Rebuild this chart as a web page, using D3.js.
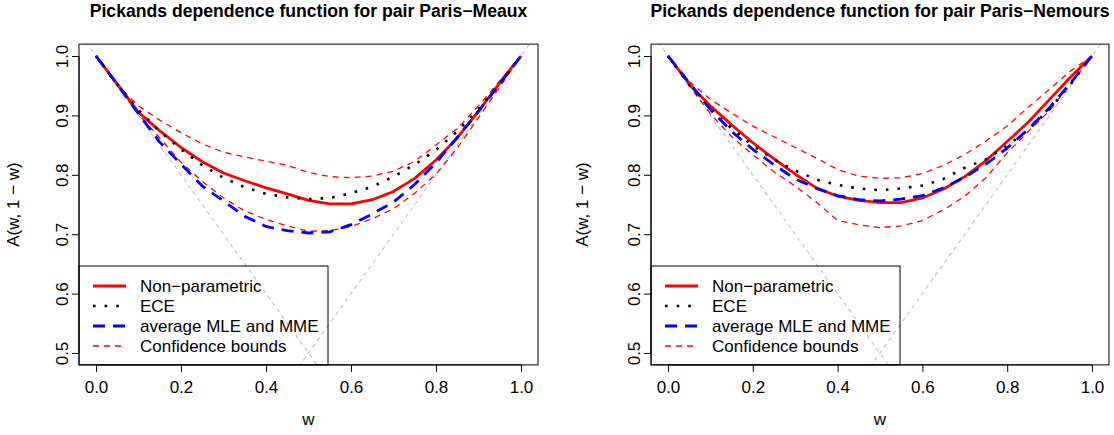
<!DOCTYPE html>
<html>
<head>
<meta charset="utf-8">
<script src="https://cdn.jsdelivr.net/npm/d3@7"></script>
<style>
  html, body { margin: 0; padding: 0; background: #fff; }
  svg { display: block; font-family: "Liberation Sans", Arial, Helvetica, sans-serif; }
</style>
</head>
<body>
<svg id="chart" width="1114" height="435"></svg>
<script>
// ---------- data ----------
const wGrid = [0, 0.05, 0.10, 0.15, 0.20, 0.25, 0.30, 0.35, 0.40, 0.45, 0.50,
               0.55, 0.60, 0.65, 0.70, 0.75, 0.80, 0.85, 0.90, 0.95, 1.0];
const xTicks = [0, 0.2, 0.4, 0.6, 0.8, 1.0];
const yTicks = [0.5, 0.6, 0.7, 0.8, 0.9, 1.0];
const panelTitles = ["Pickands dependence function for pair Paris\u2212Meaux",
                     "Pickands dependence function for pair Paris\u2212Nemours"];
const legendLabels = ["Non\u2212parametric", "ECE", "average MLE and MME", "Confidence bounds"];

// Paris-Meaux
const meauxNonParam = [1.000, 0.953, 0.905, 0.874, 0.846, 0.822, 0.803, 0.790, 0.778, 0.768, 0.757,
                       0.751, 0.751, 0.758, 0.772, 0.794, 0.825, 0.862, 0.907, 0.955, 1.000];
const meauxECE      = [1.000, 0.952, 0.909, 0.873, 0.843, 0.816, 0.795, 0.779, 0.768, 0.762, 0.759,
                       0.761, 0.769, 0.780, 0.797, 0.817, 0.842, 0.873, 0.911, 0.953, 1.000];
const meauxMLE      = [1.000, 0.952, 0.903, 0.855, 0.818, 0.781, 0.756, 0.730, 0.713, 0.706, 0.702,
                       0.704, 0.716, 0.734, 0.754, 0.784, 0.820, 0.863, 0.907, 0.953, 1.000];
const meauxUpper    = [1.000, 0.951, 0.916, 0.892, 0.871, 0.852, 0.838, 0.830, 0.823, 0.816, 0.804,
                       0.797, 0.795, 0.798, 0.806, 0.823, 0.850, 0.878, 0.916, 0.958, 1.000];
const meauxLower    = [1.000, 0.950, 0.902, 0.862, 0.821, 0.789, 0.761, 0.739, 0.725, 0.714, 0.705,
                       0.706, 0.713, 0.726, 0.743, 0.769, 0.801, 0.845, 0.896, 0.948, 1.000];

// Paris-Nemours
const nemoursNonParam = [1.000, 0.953, 0.916, 0.884, 0.854, 0.827, 0.801, 0.778, 0.764, 0.757, 0.753,
                         0.753, 0.761, 0.776, 0.797, 0.824, 0.856, 0.889, 0.927, 0.965, 1.000];
const nemoursECE      = [1.000, 0.951, 0.911, 0.878, 0.849, 0.826, 0.807, 0.792, 0.783, 0.777, 0.774,
                         0.777, 0.782, 0.793, 0.812, 0.826, 0.849, 0.876, 0.911, 0.953, 1.000];
const nemoursMLE      = [1.000, 0.955, 0.910, 0.873, 0.843, 0.817, 0.793, 0.777, 0.765, 0.758, 0.756,
                         0.759, 0.765, 0.778, 0.796, 0.818, 0.845, 0.877, 0.913, 0.955, 1.000];
const nemoursUpper    = [1.000, 0.957, 0.927, 0.904, 0.882, 0.864, 0.846, 0.828, 0.809, 0.798, 0.794,
                         0.795, 0.802, 0.816, 0.834, 0.857, 0.882, 0.914, 0.944, 0.975, 1.000];
const nemoursLower    = [1.000, 0.950, 0.903, 0.864, 0.834, 0.805, 0.781, 0.754, 0.723, 0.716, 0.711,
                         0.714, 0.723, 0.741, 0.764, 0.795, 0.837, 0.873, 0.908, 0.954, 1.000];

const panels = [
  { title: panelTitles[0], np: meauxNonParam, ece: meauxECE, mle: meauxMLE, up: meauxUpper, lo: meauxLower,
    x0: 96, x1: 521, labelX: 19 },
  { title: panelTitles[1], np: nemoursNonParam, ece: nemoursECE, mle: nemoursMLE, up: nemoursUpper, lo: nemoursLower,
    x0: 668, x1: 1092, labelX: 588 }
];

// ---------- styles ----------
const styles = {
  np:  { stroke: "#ff0000", width: 2.8, dash: null },
  ece: { stroke: "#000000", width: 2.6, dash: "2.6,9" },
  mle: { stroke: "#0000ff", width: 2.8, dash: "12,8" },
  ci:  { stroke: "#ff0000", width: 1.3, dash: "6,5" },
  ref: { stroke: "#bebebe", width: 1.1, dash: "4,4" }
};

const svg = d3.select("#chart");
const yTop = 56, yBot = 353;
const fs = 17;

panels.forEach((p, i) => {
  const x = d3.scaleLinear().domain([0, 1]).range([p.x0, p.x1]);
  const y = d3.scaleLinear().domain([0.5, 1]).range([yBot, yTop]);
  const bx0 = x(-0.04), bx1 = x(1.04), by0 = y(1.02), by1 = y(0.48);

  const g = svg.append("g");
  const clipId = "clip" + i;
  g.append("clipPath").attr("id", clipId)
    .append("rect").attr("x", bx0).attr("y", by0).attr("width", bx1 - bx0).attr("height", by1 - by0);

  const plot = g.append("g").attr("clip-path", `url(#${clipId})`);
  const line = d3.line().x((d, k) => x(wGrid[k])).y(d => y(d));

  // reference lines max(w, 1-w)
  const refLeft = [[-0.1, 1.1], [0.6, 0.4]];
  const refRight = [[0.4, 0.4], [1.1, 1.1]];
  [refLeft, refRight].forEach(seg => {
    plot.append("line")
      .attr("x1", x(seg[0][0])).attr("y1", y(seg[0][1]))
      .attr("x2", x(seg[1][0])).attr("y2", y(seg[1][1]))
      .attr("stroke", styles.ref.stroke).attr("stroke-width", styles.ref.width)
      .attr("stroke-dasharray", styles.ref.dash);
  });

  const draw = (data, st) => {
    const path = plot.append("path").datum(data).attr("d", line)
      .attr("fill", "none").attr("stroke", st.stroke).attr("stroke-width", st.width)
      .attr("stroke-linejoin", "round");
    if (st.dash) path.attr("stroke-dasharray", st.dash);
  };
  draw(p.up, styles.ci);
  draw(p.lo, styles.ci);
  draw(p.np, styles.np);
  draw(p.ece, styles.ece);
  draw(p.mle, styles.mle);

  // box
  g.append("rect").attr("x", bx0).attr("y", by0).attr("width", bx1 - bx0).attr("height", by1 - by0)
    .attr("fill", "none").attr("stroke", "#000").attr("stroke-width", 1);

  // x axis
  const xAxis = d3.axisBottom(x).tickValues(xTicks).tickFormat(d3.format(".1f")).tickSize(7).tickPadding(9);
  const xg = g.append("g").attr("transform", `translate(0,${by1})`).call(xAxis);
  xg.select(".domain").attr("d", `M${x(0)},0H${x(1)}`);
  xg.selectAll("text").attr("font-size", fs).attr("font-family", "Liberation Sans, Arial, sans-serif").attr("fill", "#000");
  xg.selectAll("line").attr("stroke", "#000");

  // y axis
  const yAxis = d3.axisLeft(y).tickValues(yTicks).tickFormat(d3.format(".1f")).tickSize(7).tickPadding(4);
  const yg = g.append("g").attr("transform", `translate(${bx0},0)`).call(yAxis);
  yg.select(".domain").attr("d", `M0,${y(0.5)}V${y(1)}`);
  yg.selectAll("line").attr("stroke", "#000");
  yg.selectAll("text")
    .attr("font-size", fs).attr("font-family", "Liberation Sans, Arial, sans-serif").attr("fill", "#000")
    .attr("x", null).attr("dy", null).attr("text-anchor", "middle")
    .attr("transform", "translate(-11,0) rotate(-90)");

  // axis titles
  g.append("text").attr("x", (p.x0 + p.x1) / 2).attr("y", 425).attr("text-anchor", "middle")
    .attr("font-size", fs).text("w");
  g.append("text").attr("transform", `translate(${p.labelX},${(by0 + by1) / 2}) rotate(-90)`)
    .attr("text-anchor", "middle").attr("font-size", fs).text("A(w, 1 \u2212 w)");

  // title
  g.append("text").attr("x", (bx0 + bx1) / 2).attr("y", 17).attr("text-anchor", "middle")
    .attr("font-size", 17.6).attr("font-weight", "bold").text(p.title);

  // legend (no background fill, as in reference)
  const lx = bx0, ly = 266, lw = 249;
  g.append("rect").attr("x", lx).attr("y", ly).attr("width", lw).attr("height", by1 - ly)
    .attr("fill", "none").attr("stroke", "#000").attr("stroke-width", 1);
  const legStyles = [styles.np, styles.ece, styles.mle, styles.ci];
  legendLabels.forEach((lab, k) => {
    const yy = 286 + k * 20;
    const st = legStyles[k];
    const ln = g.append("line").attr("x1", lx + 14).attr("x2", lx + 47).attr("y1", yy).attr("y2", yy)
      .attr("stroke", st.stroke).attr("stroke-width", st.width);
    if (st.dash) ln.attr("stroke-dasharray", st.dash);
    g.append("text").attr("x", lx + 61).attr("y", yy).attr("dy", "0.35em")
      .attr("font-size", 17).text(lab);
  });
});
</script>
</body>
</html>
